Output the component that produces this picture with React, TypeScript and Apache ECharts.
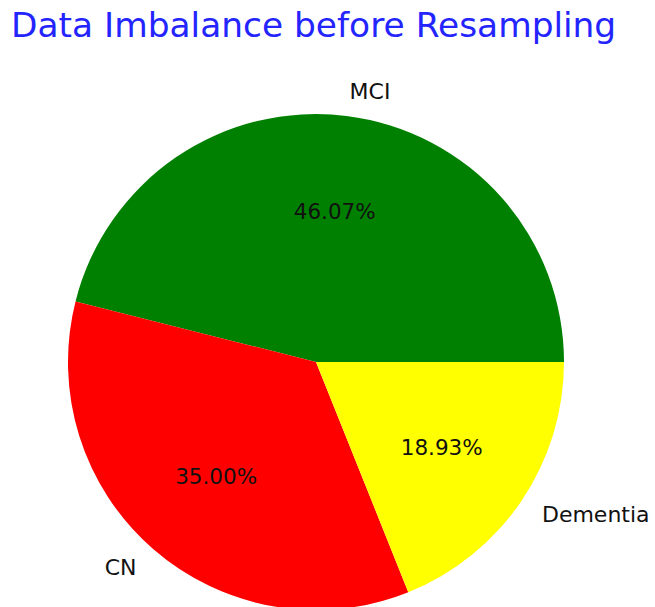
import React, { useEffect, useRef } from "react";
import * as echarts from "echarts";

const categories = ["MCI", "CN", "Dementia"];
const percentages = [46.07, 35.0, 18.93];
const colors = ["#008000", "#ff0000", "#ffff00"];
const titleText = "Data Imbalance before Resampling";

export default function App() {
  const ref = useRef<HTMLDivElement>(null);
  useEffect(() => {
    document.body.style.margin = "0";
    const chart = echarts.init(ref.current!, undefined, { renderer: "svg" });
    const R = 248;
    const center = [316, 362];
    const data = categories.map((name, i) => ({
      name,
      value: percentages[i],
      itemStyle: { color: colors[i] },
    }));
    chart.setOption({
      animation: false,
      backgroundColor: "#ffffff",
      title: {
        text: titleText,
        left: 6,
        top: 3,
        textStyle: {
          color: "#2424ff",
          fontFamily: "DejaVu Sans",
          fontSize: 34.4,
          fontWeight: "normal",
        },
      },
      series: [
        {
          type: "pie",
          radius: R,
          center,
          startAngle: 0,
          clockwise: false,
          avoidLabelOverlap: false,
          silent: true,
          itemStyle: { borderWidth: 0 },
          label: {
            show: true,
            position: "outside",
            formatter: "{b}",
            color: "#111",
            fontFamily: "DejaVu Sans",
            fontSize: 22,
            distanceToLabelLine: 0,
          },
          labelLine: { show: false, length: R * 0.1, length2: 0 },
          data,
        },
        {
          type: "pie",
          radius: R * 1.2,
          center,
          startAngle: 0,
          clockwise: false,
          avoidLabelOverlap: false,
          silent: true,
          itemStyle: { color: "transparent", borderWidth: 0 },
          label: {
            show: true,
            position: "inside",
            formatter: (p: any) => Number(p.value).toFixed(2) + "%",
            color: "#111",
            fontFamily: "DejaVu Sans",
            fontSize: 21.5,
          },
          labelLine: { show: false },
          data: categories.map((name, i) => ({
            name,
            value: percentages[i],
            itemStyle: { color: "transparent" },
          })),
        },
      ],
    });
    return () => chart.dispose();
  }, []);
  return (
    <div
      ref={ref}
      style={{ width: 655, height: 607, position: "absolute", left: 0, top: 0 }}
    />
  );
}
